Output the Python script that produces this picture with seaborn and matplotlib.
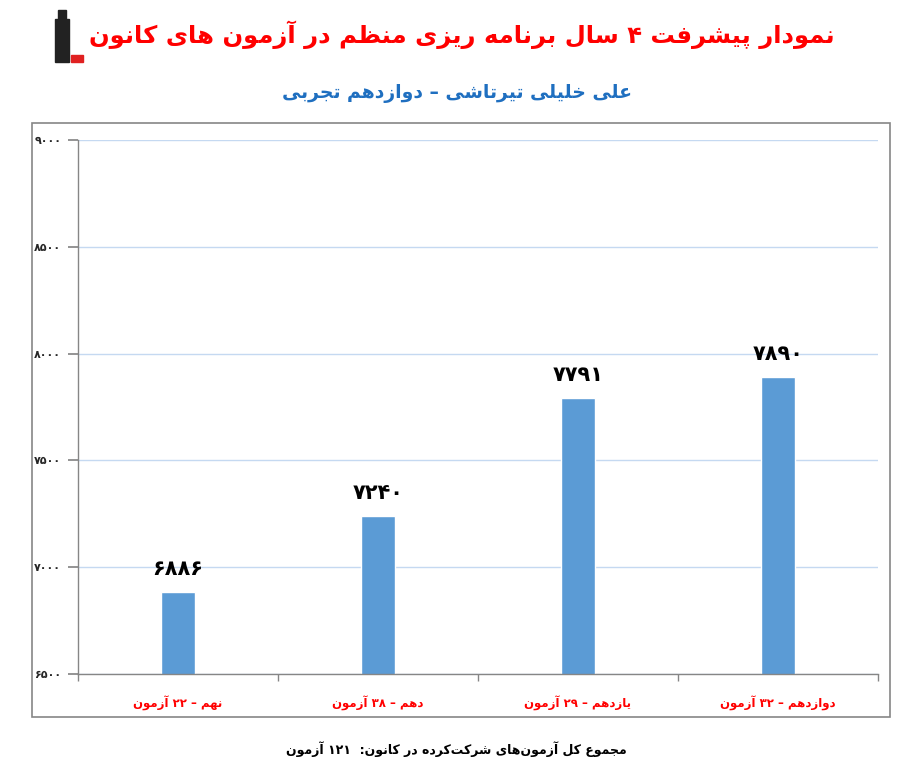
import numpy as np
import pandas as pd
import matplotlib
matplotlib.use('Agg')
import matplotlib.pyplot as plt
import seaborn as sns
from matplotlib.patches import Rectangle

# chart data
title = 'نمودار پیشرفت ۴ سال برنامه ریزی منظم در آزمون های کانون'
subtitle = 'علی خلیلی تیرتاشی – دوازدهم تجربی'
footer = 'مجموع کل آزمون\u200cهای شرکت\u200cکرده در کانون:  ۱۲۱ آزمون'
grades = ['نهم – ۲۲ آزمون', 'دهم – ۳۸ آزمون', 'یازدهم – ۲۹ آزمون', 'دوازدهم – ۳۲ آزمون']
scores = [6886, 7240, 7791, 7890]
y_ticks = [6500, 7000, 7500, 8000, 8500, 9000]

# arabic letter forms: isolated, final, initial, medial
FORMS = {
    'ا': ('\uFE8D', '\uFE8E', None, None),
    'آ': ('\uFE81', '\uFE82', None, None),
    'ب': ('\uFE8F', '\uFE90', '\uFE91', '\uFE92'),
    'پ': ('\uFB56', '\uFB57', '\uFB58', '\uFB59'),
    'ت': ('\uFE95', '\uFE96', '\uFE97', '\uFE98'),
    'ج': ('\uFE9D', '\uFE9E', '\uFE9F', '\uFEA0'),
    'ح': ('\uFEA1', '\uFEA2', '\uFEA3', '\uFEA4'),
    'خ': ('\uFEA5', '\uFEA6', '\uFEA7', '\uFEA8'),
    'د': ('\uFEA9', '\uFEAA', None, None),
    'ر': ('\uFEAD', '\uFEAE', None, None),
    'ز': ('\uFEAF', '\uFEB0', None, None),
    'س': ('\uFEB1', '\uFEB2', '\uFEB3', '\uFEB4'),
    'ش': ('\uFEB5', '\uFEB6', '\uFEB7', '\uFEB8'),
    'ظ': ('\uFEC5', '\uFEC6', '\uFEC7', '\uFEC8'),
    'ع': ('\uFEC9', '\uFECA', '\uFECB', '\uFECC'),
    'ف': ('\uFED1', '\uFED2', '\uFED3', '\uFED4'),
    'ک': ('\uFB8E', '\uFB8F', '\uFB90', '\uFB91'),
    'ل': ('\uFEDD', '\uFEDE', '\uFEDF', '\uFEE0'),
    'م': ('\uFEE1', '\uFEE2', '\uFEE3', '\uFEE4'),
    'ن': ('\uFEE5', '\uFEE6', '\uFEE7', '\uFEE8'),
    'ه': ('\uFEE9', '\uFEEA', '\uFEEB', '\uFEEC'),
    'و': ('\uFEED', '\uFEEE', None, None),
    'ی': ('\uFBFC', '\uFBFD', '\uFBFE', '\uFBFF'),
}
DIGITS = set('۰۱۲۳۴۵۶۷۸۹0123456789')


def shape(s):
    out = []
    for i, c in enumerate(s):
        if c not in FORMS:
            if c != '\u200c':
                out.append(c)
            continue
        prev = s[i - 1] if i > 0 else None
        nxt = s[i + 1] if i + 1 < len(s) else None
        jp = prev in FORMS and FORMS[prev][2] is not None
        jn = nxt in FORMS and FORMS[c][2] is not None
        f = FORMS[c]
        if jp and jn:
            out.append(f[3])
        elif jp:
            out.append(f[1])
        elif jn:
            out.append(f[2])
        else:
            out.append(f[0])
    # right to left, keep digit runs in order
    runs = []
    for c in out:
        isd = c in DIGITS
        if runs and runs[-1][0] == isd:
            runs[-1][1].append(c)
        else:
            runs.append((isd, [c]))
    res = ''
    for isd, chars in reversed(runs):
        res += ''.join(chars) if isd else ''.join(reversed(chars))
    return res


def fa_num(n):
    return ''.join('۰۱۲۳۴۵۶۷۸۹'[int(d)] for d in str(n))


sns.set_theme(style='white')
plt.rcParams['font.family'] = ['DejaVu Sans']

df = pd.DataFrame({'grade': [shape(g) for g in grades], 'score': scores})

fig = plt.figure(figsize=(9.13, 7.63), dpi=100)
ax = fig.add_axes([0.0854, 0.1166, 0.876, 0.6999])

sns.barplot(data=df, x='grade', y='score', color='#5B9BD5', width=0.17,
            saturation=1, ax=ax)

ax.set_ylim(6500, 9000)
ax.set_xlim(-0.5, 3.5)
ax.set_yticks(y_ticks)
ax.set_yticklabels([fa_num(t) for t in y_ticks], fontsize=8, fontweight='bold')
ax.grid(axis='y', color='#C5D9F1', linewidth=1)
ax.set_axisbelow(True)
for sp in ['top', 'right']:
    ax.spines[sp].set_visible(False)
for sp in ['left', 'bottom']:
    ax.spines[sp].set_color('#868686')
    ax.spines[sp].set_linewidth(1)
ax.tick_params(axis='y', left=True, length=7, color='#868686', pad=5)
ax.set_xticks([-0.5, 0.5, 1.5, 2.5, 3.5], minor=True)
ax.tick_params(axis='x', which='minor', bottom=True, length=5, color='#868686')
ax.tick_params(axis='x', which='major', bottom=False, pad=10)
for lbl in ax.get_xticklabels():
    lbl.set_color('#FF0000')
    lbl.set_fontweight('bold')
    lbl.set_fontsize(8.5)
ax.set_xlabel('')
ax.set_ylabel('')

for i, v in enumerate(scores):
    ax.text(i, v + 60, fa_num(v), ha='center', va='bottom', fontsize=15,
            fontweight='bold', color='black')

# outer frame
fig.patches.append(Rectangle((0.035, 0.0603), 0.94, 0.7785, transform=fig.transFigure,
                             fill=False, edgecolor='#868686', linewidth=1.2))

fig.text(0.506, 0.954, shape(title), ha='center', va='center', fontsize=17.5,
         fontweight='bold', color='#FF0000')
fig.text(0.5, 0.878, shape(subtitle), ha='center', va='center', fontsize=13.5,
         fontweight='bold', color='#1F6FC0')
fig.text(0.5, 0.018, shape(footer), ha='center', va='center', fontsize=9,
         fontweight='bold', color='black')

# small logo
lg = fig.add_axes([0.058, 0.915, 0.035, 0.075])
lg.set_xlim(0, 1)
lg.set_ylim(0, 1)
lg.axis('off')
lg.add_patch(Rectangle((0.05, 0.05), 0.45, 0.75, color='#222222'))
lg.add_patch(Rectangle((0.15, 0.8), 0.25, 0.15, color='#222222'))
lg.add_patch(Rectangle((0.55, 0.05), 0.4, 0.12, color='#E02020'))

fig.savefig('out.png', dpi=100)
